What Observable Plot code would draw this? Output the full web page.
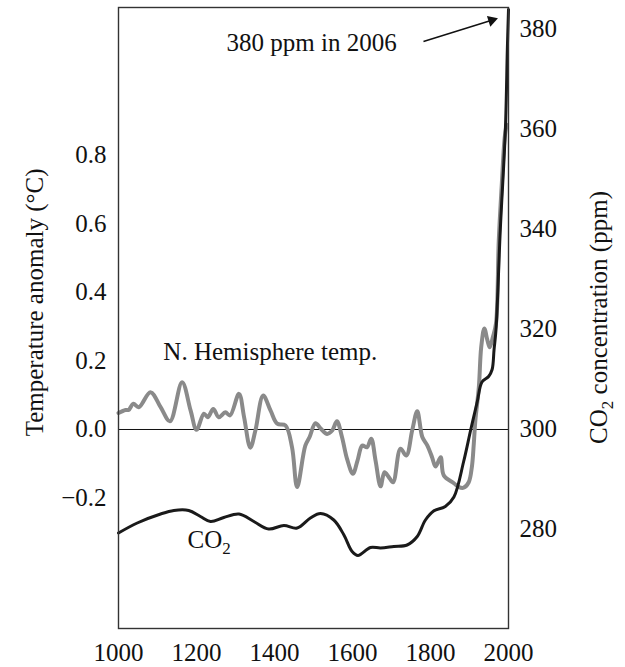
<!DOCTYPE html>
<html><head><meta charset="utf-8">
<script src="https://cdn.jsdelivr.net/npm/d3@7"></script>
<script src="https://cdn.jsdelivr.net/npm/@observablehq/plot@0.6"></script>
<style>body{margin:0;background:#fff}</style>
</head><body><div id="chart"></div>
<script>
// Northern Hemisphere temperature anomaly (°C)
const tempYears = [1000,1018,1026,1038,1052,1082,1108,1132,1163,1185,1200,1219,1229,1243,1257,1274,1286,1309,1322,1338,1351,1371,1390,1407,1428,1445,1458,1479,1490,1505,1519,1535,1548,1560,1573,1586,1601,1613,1625,1637,1648,1659,1672,1682,1693,1704,1723,1738,1753,1766,1779,1792,1804,1813,1826,1834,1860,1873,1885,1898,1906,1911,1915,1924,1930,1938,1946,1952,1960,1968,1975,1983,1990,1995];
const tempAnomaly = [0.048,0.057,0.057,0.075,0.065,0.109,0.065,0.024,0.138,0.055,-0.001,0.046,0.036,0.060,0.036,0.050,0.041,0.104,0.036,-0.053,-0.003,0.099,0.055,0.017,0.012,-0.052,-0.168,-0.047,-0.022,0.018,0.002,-0.013,-0.003,0.024,-0.022,-0.086,-0.129,-0.090,-0.047,-0.052,-0.027,-0.090,-0.166,-0.125,-0.139,-0.154,-0.056,-0.076,-0.003,0.053,-0.022,-0.047,-0.081,-0.108,-0.081,-0.134,-0.157,-0.168,-0.170,-0.154,-0.110,-0.042,0.026,0.124,0.240,0.295,0.260,0.240,0.270,0.310,0.550,0.720,0.850,0.890];

// CO2 concentration (ppm)
const co2Years = [1000,1048,1108,1142,1180,1210,1236,1270,1309,1347,1385,1424,1458,1492,1518,1552,1578,1599,1614,1646,1672,1706,1740,1766,1787,1808,1838,1860,1885,1903,1920,1932,1949,1958,1963,1968,1979,1992,1997,2000];
const co2Ppm = [279.3,281.3,283.1,283.8,283.8,282.6,281.6,282.4,283.1,281.6,280.1,280.8,280.3,282.3,283.2,281.9,278.9,275.6,274.8,276.4,276.3,276.6,276.9,278.6,281.9,283.7,284.6,286.5,293.6,299.9,305.6,309.5,310.6,312.0,316.0,320.0,340.0,360.0,376.0,384.0];

const xTicks = [1000,1200,1400,1600,1800,2000];
const tempTicks = [-0.2,0,0.2,0.4,0.6,0.8];
const co2Ticks = [280,300,320,340,360,380];

// Right-axis mapping: 300 ppm aligns with 0.0 °C; 68.5 ppm per 1 °C of left axis
const co2Base = 300, ppmPerDeg = 68.5;
const co2ToTemp = (p) => (p - co2Base) / ppmPerDeg;

const tempData = tempYears.map((y, i) => ({year: y, value: tempAnomaly[i]}));
const co2Data = co2Years.map((y, i) => ({year: y, value: co2ToTemp(co2Ppm[i])}));

const labelTexts = ["N. Hemisphere temp.", "CO2", "380 ppm in 2006"];
const labelYears = [1115, 1177, 1277];
const labelValues = [0.225, -0.324, 1.127];
const labels = labelTexts.map((t, i) => ({t, x: labelYears[i], y: labelValues[i]}));

const arrowFrom = {x: 1782, y: 1.133};
const arrowTo = {x: 1957, y: 1.1946};

const serif = "'Liberation Serif', 'Times New Roman', serif";

const plot = Plot.plot({
  width: 625,
  height: 667,
  marginLeft: 118,
  marginRight: 117,
  marginTop: 7,
  marginBottom: 39,
  style: {fontFamily: serif, fontSize: "25px", color: "#111", background: "#fff"},
  x: {domain: [1000, 2000]},
  y: {domain: [-0.581, 1.232]},
  marks: [
    Plot.ruleY([0], {stroke: "#111", strokeWidth: 1}),
    Plot.line(tempData, {x: "year", y: "value", stroke: "#8a8a8a", strokeWidth: 4, curve: "catmull-rom"}),
    Plot.line(co2Data, {x: "year", y: "value", stroke: "#1a1a1a", strokeWidth: 3, curve: "catmull-rom"}),
    Plot.frame({stroke: "#333", strokeWidth: 1.4}),
    Plot.axisX(xTicks, {tickSize: 0, tickPadding: 15, label: null, tickFormat: d => String(d)}),
    Plot.axisY(tempTicks, {anchor: "left", tickSize: 0, tickPadding: 12, label: null, tickFormat: d3.format(".1f")}),
    Plot.axisY(co2Ticks.map(co2ToTemp), {anchor: "right", tickSize: 0, tickPadding: 11, label: null,
      tickFormat: d => String(Math.round(d * ppmPerDeg + co2Base))}),
    Plot.text(labels, {x: "x", y: "y", text: "t", textAnchor: "start", lineAnchor: "middle", fill: "#111"}),
    Plot.link([{x1: arrowFrom.x, y1: arrowFrom.y, x2: arrowTo.x, y2: arrowTo.y}], {x1: "x1", y1: "y1", x2: "x2", y2: "y2", stroke: "#111", strokeWidth: 1.5}),
    Plot.dot([arrowTo], {x: "x", y: "y", symbol: "triangle", r: 4.2, fill: "#111", stroke: null, rotate: 72.7}),
    Plot.text([{t: "Temperature anomaly (°C)", x: 1000, y: 0.371}], {x: "x", y: "y", text: "t", rotate: -90, dx: -84, textAnchor: "middle", lineAnchor: "middle", fill: "#111"}),
    Plot.text([{t: "CO2 concentration (ppm)", x: 2000, y: 0.327}], {x: "x", y: "y", text: "t", rotate: -90, dx: 90, textAnchor: "middle", lineAnchor: "middle", fill: "#111"})
  ]
});

// subscript the "2" in CO2
d3.select(plot).selectAll("text").each(function() {
  const t = this.textContent;
  const i = t.indexOf("CO2");
  if (i < 0 || this.querySelector("tspan")) return;
  const sel = d3.select(this);
  sel.text(null);
  sel.append("tspan").text(t.slice(0, i + 2));
  sel.append("tspan").attr("font-size", "17px").attr("dy", "6px").text("2");
  const rest = t.slice(i + 3);
  if (rest) sel.append("tspan").attr("dy", "-6px").text(rest);
});

document.getElementById("chart").appendChild(plot);
</script>
</body></html>
